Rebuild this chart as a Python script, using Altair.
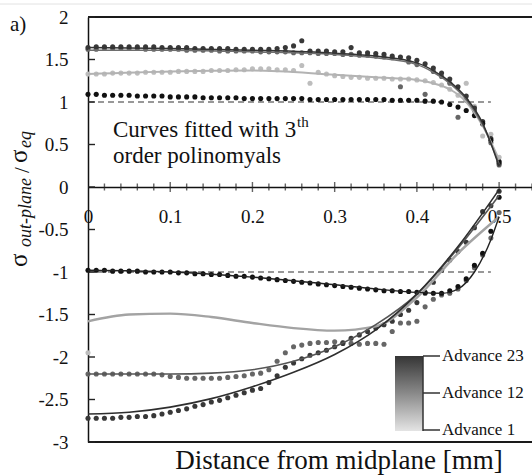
import altair as alt
import pandas as pd

SERIF = "'Liberation Serif', 'Times New Roman', Times, 'DejaVu Serif', serif"

# ---------------- data ----------------
X_DOTS = [0.00, 0.01, 0.02, 0.03, 0.04, 0.05, 0.06, 0.07, 0.08, 0.09,
          0.10, 0.11, 0.12, 0.13, 0.14, 0.15, 0.16, 0.17, 0.18, 0.19,
          0.20, 0.21, 0.22, 0.23, 0.24, 0.25, 0.26, 0.27, 0.28, 0.29,
          0.30, 0.31, 0.32, 0.33, 0.34, 0.35, 0.36, 0.37, 0.38, 0.39,
          0.40, 0.41, 0.42, 0.43, 0.44, 0.45, 0.46, 0.47, 0.48, 0.49, 0.50]

UP_DARK = [1.64, 1.65, 1.65, 1.65, 1.65, 1.65, 1.65, 1.65, 1.65, 1.64,
           1.64, 1.64, 1.64, 1.63, 1.63, 1.63, 1.63, 1.63, 1.62, 1.62,
           1.62, 1.62, 1.62, 1.63, 1.64, 1.66, 1.72, 1.60, 1.60, 1.60,
           1.59, 1.59, 1.64, 1.58, 1.58, 1.57, 1.56, 1.54, 1.53, 1.52,
           1.49, 1.45, 1.40, 1.34, 1.27, 1.18, 1.07, 0.93, 0.77, 0.57, 0.28]
UP_MED = [1.62, 1.62, 1.63, 1.63, 1.63, 1.63, 1.63, 1.62, 1.62, 1.62,
          1.62, 1.62, 1.61, 1.61, 1.61, 1.61, 1.60, 1.60, 1.60, 1.60,
          1.60, 1.59, 1.59, 1.59, 1.59, 1.58, 1.58, 1.58, 1.57, 1.57,
          1.57, 1.56, 1.56, 1.55, 1.55, 1.54, 1.53, 1.52, 1.18, 1.47,
          1.44, 1.09, 1.36, 1.30, 1.22, 0.82, 1.02, 0.90, 0.74, 0.52, 0.26]
UP_LIGHT = [1.33, 1.33, 1.33, 1.34, 1.34, 1.34, 1.34, 1.35, 1.35, 1.35,
            1.35, 1.36, 1.36, 1.36, 1.36, 1.37, 1.37, 1.37, 1.38, 1.38,
            1.39, 1.39, 1.39, 1.38, 1.38, 1.37, 1.43, 1.22, 1.35, 1.33,
            1.31, 1.30, 1.29, 1.29, 1.28, 1.28, 1.28, 1.27, 1.27, 1.27,
            1.26, 1.25, 1.23, 1.20, 1.15, 1.08, 1.22, 0.95, 0.60, 0.62, 0.35]
UP_BLACK = [1.09, 1.09, 1.08, 1.08, 1.08, 1.08, 1.07, 1.07, 1.07, 1.07,
            1.06, 1.06, 1.06, 1.06, 1.05, 1.05, 1.05, 1.05, 1.05, 1.04,
            1.04, 1.04, 1.04, 1.04, 1.04, 1.04, 1.04, 1.03, 1.03, 1.03,
            1.03, 1.03, 1.03, 1.03, 1.03, 1.03, 1.03, 1.02, 1.02, 1.02,
            1.02, 1.01, 1.01, 1.00, 0.97, 0.94, 0.90, 0.84, 0.75, 0.55, 0.30]
LOW_BLACK = [-0.98, -0.98, -0.98, -0.99, -0.99, -0.99, -0.99, -1.00, -1.00, -1.00,
             -1.00, -1.01, -1.01, -1.02, -1.02, -1.03, -1.03, -1.04, -1.05, -1.05,
             -1.06, -1.07, -1.08, -1.09, -1.10, -1.11, -1.12, -1.13, -1.14, -1.15,
             -1.16, -1.17, -1.18, -1.19, -1.20, -1.21, -1.22, -1.22, -1.23, -1.23,
             -1.24, -1.24, -1.25, -1.25, -1.22, -1.17, -1.08, -0.92, -0.78, -0.52, -0.12]
LOW_MED = [-2.20, -2.20, -2.20, -2.20, -2.20, -2.20, -2.20, -2.20, -2.20, -2.21,
           -2.23, -2.24, -2.25, -2.25, -2.25, -2.25, -2.25, -2.24, -2.23, -2.22,
           -2.20, -2.19, -2.15, -2.05, -1.95, -1.88, -1.86, -1.84, -1.83, -1.83,
           -1.82, -1.83, -1.84, -1.85, -1.84, -1.84, -1.85, -1.70, -1.60, -1.60,
           -1.58, -1.41, -1.32, -1.27, -1.25, -1.20, -1.10, -0.95, -0.80, -0.60, -0.30]
LOW_DARK = [-2.72, -2.72, -2.72, -2.72, -2.71, -2.71, -2.70, -2.70, -2.69, -2.67,
            -2.65, -2.63, -2.61, -2.58, -2.56, -2.53, -2.51, -2.48, -2.45, -2.42,
            -2.39, -2.37, -2.30, -2.22, -2.12, -2.07, -2.02, -1.98, -1.95, -1.92,
            -1.88, -1.84, -1.78, -1.74, -1.70, -1.66, -1.62, -1.58, -1.50, -1.45,
            -1.36, -1.25, -1.12, -0.98, -0.86, -0.76, -0.65, -0.48, -0.29, -0.22, -0.05]
LOW_LIGHT_X = [0.0]
LOW_LIGHT = [-1.95]

# fitted (3rd order) curves, read at a few abscissae
FIT_X_UP = [0.0, 0.1, 0.2, 0.3, 0.35, 0.4, 0.42, 0.44, 0.46, 0.48, 0.5]
FIT_UP_DARK = [1.64, 1.63, 1.61, 1.575, 1.54, 1.46, 1.37, 1.24, 1.05, 0.75, 0.24]
FIT_UP_MED = [1.61, 1.61, 1.59, 1.56, 1.52, 1.44, 1.35, 1.22, 1.03, 0.73, 0.27]
FIT_UP_LIGHT = [1.33, 1.36, 1.37, 1.32, 1.29, 1.26, 1.22, 1.15, 1.00, 0.72, 0.32]

FIT_X_LOW = [0.0, 0.05, 0.1, 0.15, 0.2, 0.25, 0.3, 0.35, 0.4, 0.45, 0.5]
FIT_LOW_LIGHT = [-1.58, -1.50, -1.49, -1.53, -1.60, -1.66, -1.69, -1.64, -1.30, -0.78, -0.35]
FIT_LOW_MED = [-2.20, -2.20, -2.20, -2.19, -2.15, -2.05, -1.88, -1.62, -1.26, -0.72, -0.10]
FIT_LOW_DARK = [-2.67, -2.65, -2.59, -2.49, -2.35, -2.18, -1.97, -1.68, -1.26, -0.70, -0.03]

FIT_X_LOW_BLACK = [0.0, 0.1, 0.2, 0.3, 0.35, 0.4, 0.43, 0.45, 0.47, 0.49, 0.5]
FIT_LOW_BLACK = [-0.98, -1.00, -1.06, -1.15, -1.20, -1.24, -1.25, -1.20, -1.00, -0.62, -0.35]

REF_LEVELS = [1, -1]
REF_X_START = [0.0, 0.0]
REF_X_END = [0.49, 0.49]

X_LABELS = [0.0, 0.1, 0.2, 0.3, 0.4, 0.5]
X_MAJOR = [0.1, 0.2, 0.3, 0.4, 0.5]
X_MINOR = [0.02, 0.04, 0.06, 0.08, 0.12, 0.14, 0.16, 0.18, 0.22, 0.24, 0.26, 0.28,
           0.32, 0.34, 0.36, 0.38, 0.42, 0.44, 0.46, 0.48, 0.52, 0.54]
Y_TICKS = [-3, -2.5, -2, -1.5, -1, -0.5, 0, 0.5, 1, 1.5, 2]
X_DOMAIN = [0, 0.54]
Y_DOMAIN = [-3, 2]

LEGEND_LABELS = ["Advance 23", "Advance 12", "Advance 1"]

# ---------------- styles ----------------
DOT_COLORS = {"light": "#bdbdbd", "med": "#666666", "dark": "#383838", "black": "#111111"}
CURVE_STYLE = {
    "up_light": ("#b3b3b3", 2.0), "up_med": ("#6e6e6e", 1.5), "up_dark": ("#333333", 1.5),
    "low_light": ("#a3a3a3", 2.4), "low_med": ("#555555", 1.6), "low_dark": ("#2e2e2e", 1.6),
    "low_black": ("#222222", 1.4),
}

# ---------------- tables ----------------
dot_parts = []
for name, xs, ys in [("light", X_DOTS, UP_LIGHT), ("med", X_DOTS, UP_MED), ("dark", X_DOTS, UP_DARK),
                     ("black", X_DOTS, UP_BLACK), ("light", LOW_LIGHT_X, LOW_LIGHT),
                     ("med", X_DOTS, LOW_MED), ("dark", X_DOTS, LOW_DARK), ("black", X_DOTS, LOW_BLACK)]:
    dot_parts.append(pd.DataFrame({"x": xs, "y": ys, "series": name}))
dots = pd.concat(dot_parts, ignore_index=True)
dots["color"] = dots["series"].map(DOT_COLORS)

curve_parts = []
for name, xs, ys in [("up_light", FIT_X_UP, FIT_UP_LIGHT), ("up_med", FIT_X_UP, FIT_UP_MED),
                     ("up_dark", FIT_X_UP, FIT_UP_DARK), ("low_light", FIT_X_LOW, FIT_LOW_LIGHT),
                     ("low_black", FIT_X_LOW_BLACK, FIT_LOW_BLACK),
                     ("low_med", FIT_X_LOW, FIT_LOW_MED), ("low_dark", FIT_X_LOW, FIT_LOW_DARK)]:
    df = pd.DataFrame({"x": xs, "y": ys, "curve": name})
    df["color"] = CURVE_STYLE[name][0]
    df["w"] = CURVE_STYLE[name][1]
    curve_parts.append(df)
curves = pd.concat(curve_parts, ignore_index=True)

refs = pd.DataFrame({"x": REF_X_START, "x2": REF_X_END, "y": REF_LEVELS})
borders = pd.DataFrame({"x": [X_DOMAIN[0]] * 2, "x2": [X_DOMAIN[1]] * 2, "y": [Y_DOMAIN[1], Y_DOMAIN[0]]})
xticks = pd.concat([pd.DataFrame({"x": X_MAJOR, "y": 0, "s": 10}),
                    pd.DataFrame({"x": X_MINOR, "y": 0, "s": 7})], ignore_index=True)
yticks = pd.DataFrame({"y": Y_TICKS})

# ---------------- scales / axes ----------------
SX = alt.Scale(domain=X_DOMAIN, nice=False, zero=False)
SY = alt.Scale(domain=Y_DOMAIN, nice=False, zero=False)
AX_X = alt.Axis(orient="bottom", offset=-255, values=X_LABELS,
                labelExpr="format(datum.value, '.1~f')",
                ticks=False, tickSize=0, labelPadding=20, labelFlush=False, labelOverlap=False,
                labelFont=SERIF, labelFontSize=19, labelColor="#111111",
                domainColor="#111111", domainWidth=1.5, grid=False, title=None)
AX_Y = alt.Axis(orient="left", values=Y_TICKS,
                labelExpr="datum.value < 0 ? '-' + format(-datum.value, '~g') : format(datum.value, '~g')",
                ticks=False, tickSize=0, labelPadding=20, labelOverlap=False,
                labelFont=SERIF, labelFontSize=19, labelColor="#111111",
                domainColor="#111111", domainWidth=1.5, grid=False, title=None)


def X(field="x"):
    return alt.X(f"{field}:Q", scale=SX, axis=AX_X)


def Y(field="y"):
    return alt.Y(f"{field}:Q", scale=SY, axis=AX_Y)


dots_layer = alt.Chart(dots).mark_circle(size=26, opacity=1).encode(
    x=X(), y=Y(), color=alt.Color("color:N", scale=None))

curves_layer = alt.Chart(curves).mark_line(interpolate="monotone").encode(
    x=X(), y=Y(), detail="curve:N", color=alt.Color("color:N", scale=None),
    strokeWidth=alt.StrokeWidth("w:Q", scale=None))

ref_layer = alt.Chart(refs).mark_rule(strokeDash=[6, 4], color="#333333", strokeWidth=1.2).encode(
    x=X(), x2="x2:Q", y=Y())

border_layer = alt.Chart(borders).mark_rule(color="#1a1a1a", strokeWidth=1.8).encode(
    x=X(), x2="x2:Q", y=Y())

xtick_layer = alt.Chart(xticks).mark_tick(orient="vertical", thickness=1.4, color="#222222").encode(
    x=X(), y=Y(), size=alt.Size("s:Q", scale=None))

ytick_layer = alt.Chart(yticks).mark_rule(color="#222222", strokeWidth=1.4).encode(
    y=Y(), x=alt.value(0), x2=alt.value(7))

edge_layer = alt.Chart(pd.DataFrame({"k": [0]})).mark_rule(color="#e2e2e2", strokeWidth=1).encode(
    x=alt.value(-88), x2=alt.value(444), y=alt.value(-13))


def label(text, px, py, size, align="left", baseline="alphabetic", angle=0, style="normal", color="#111111"):
    return alt.Chart(pd.DataFrame({"t": [text]})).mark_text(
        align=align, baseline=baseline, angle=angle, font=SERIF, fontSize=size,
        fontStyle=style, color=color).encode(x=alt.value(px), y=alt.value(py), text="t:N")


texts = [
    label("a)", -78, 14, 21),
    label("Curves fitted with 3", 25, 120, 23),
    label("th", 209, 110, 15),
    label("order polinomyals", 25, 146, 23),
    label("Distance from midplane [mm]", 251, 452, 27, align="center"),
    # rotated y title: sigma_out-plane / sigma_eq
    label("σ", -61, 250, 25, angle=270),
    label("out-plane", -57, 230, 18, angle=270, style="italic"),
    label("/", -59, 156, 21, angle=270),
    label("σ", -61, 146, 25, angle=270),
    label("eq", -57, 131, 18, angle=270, style="italic"),
]

# legend (gradient bar)
legend_df = pd.DataFrame({"label": LEGEND_LABELS, "py": [339, 376, 413]})
grad = alt.LinearGradient(gradient="linear", x1=0, x2=0, y1=0, y2=1,
                          stops=[alt.GradientStop(color="#353535", offset=0),
                                 alt.GradientStop(color="#8a8a8a", offset=0.5),
                                 alt.GradientStop(color="#e4e4e4", offset=1)])
legend_bar = alt.Chart(pd.DataFrame({"k": [0]})).mark_rect(color=grad).encode(
    x=alt.value(307), x2=alt.value(335), y=alt.value(339), y2=alt.value(414))
legend_edge = alt.Chart(pd.DataFrame({"k": [0]})).mark_rule(color="#333333", strokeWidth=1.5).encode(
    x=alt.value(335), y=alt.value(339), y2=alt.value(414))
legend_ticks = alt.Chart(legend_df).mark_rule(color="#333333", strokeWidth=1.5).encode(
    y=alt.Y("py:Q", scale=None), x=alt.value(335), x2=alt.value(352))
legend_text = alt.Chart(legend_df).mark_text(
    align="left", baseline="middle", font=SERIF, fontSize=17, color="#111111").encode(
    y=alt.Y("py:Q", scale=None), x=alt.value(354), text="label:N")

chart = alt.layer(
    edge_layer, border_layer, ref_layer, dots_layer, curves_layer, xtick_layer, ytick_layer,
    legend_bar, legend_edge, legend_ticks, legend_text, *texts
).properties(
    width=444, height=425,
    padding={"left": 88, "top": 17, "right": 0, "bottom": 33},
    autosize=alt.AutoSizeParams(type="none"),
    background="white",
).configure(
    font=SERIF
).configure_axis(
    labelFont=SERIF, labelFontSize=19
).configure_text(
    font=SERIF
).configure_view(strokeWidth=0)

chart.save("out.html", embed_options={"renderer": "svg", "actions": False})
